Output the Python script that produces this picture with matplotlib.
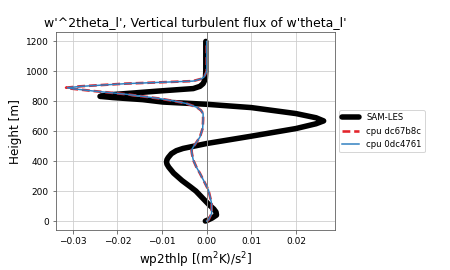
import matplotlib
matplotlib.use("Agg")
import matplotlib.pyplot as plt

# SAM-LES profile
sam_z = [0, 10, 20, 40, 60, 80, 110, 150, 200, 230, 270, 320, 360, 380, 395, 410, 425,
         450, 470, 485, 518, 567, 618, 650, 669, 690, 718, 758, 780, 795, 811, 825,
         833, 845, 869, 885, 900, 918, 950, 1000, 1200]
sam_v = [-0.0003, 0.0005, 0.0012, 0.0022, 0.0021, 0.0016, 0.0005, -0.0008, -0.0024,
         -0.0037, -0.0055, -0.0074, -0.0085, -0.0089, -0.009, -0.0089, -0.0086,
         -0.0079, -0.0068, -0.0053, 0.0, 0.01, 0.02, 0.0245, 0.0262, 0.0245, 0.02,
         0.01, 0.0, -0.0098, -0.0143, -0.021, -0.0239, -0.021, -0.0105, -0.003,
         -0.0015, -0.0008, -0.0003, -0.0002, -0.0002]

# cpu runs
cpu_z = [0, 7, 51, 118, 207, 260, 318, 360, 407, 450, 473, 495, 530, 562, 620, 673,
         718, 740, 760, 785, 800, 818, 847, 869, 884, 891, 900, 918, 935, 950, 962,
         1000, 1200]
dc67_v = [0.0, 0.0004, 0.0011, 0.0011, 0.0004, -0.0005, -0.0015, -0.0023, -0.003,
          -0.0033, -0.0034, -0.003, -0.0022, -0.0015, -0.0009, -0.0008, -0.0008,
          -0.0013, -0.0022, -0.0045, -0.007, -0.0105, -0.018, -0.0255, -0.0302,
          -0.0315, -0.0284, -0.0182, -0.0031, -0.0012, -0.0006, 0.0, 0.0]
v0dc_v = [0.0, 0.0004, 0.0011, 0.0011, 0.0004, -0.0005, -0.0015, -0.0023, -0.003,
          -0.0033, -0.0034, -0.003, -0.0022, -0.0015, -0.0009, -0.0008, -0.0008,
          -0.0013, -0.0022, -0.0045, -0.007, -0.0105, -0.018, -0.0255, -0.03,
          -0.0312, -0.028, -0.018, -0.003, -0.0012, -0.0006, 0.0, 0.0]

fig = plt.figure(figsize=(6.25, 3.75), dpi=72)
ax = fig.add_axes([0.124, 0.148, 0.62, 0.733])

ax.plot(sam_v, sam_z, color="black", lw=5.5, label="SAM-LES",
        solid_joinstyle="round", solid_capstyle="round")
ax.plot(dc67_v, cpu_z, color="#e3242b", lw=2.6, ls=(0, (3, 1.5)), label="cpu dc67b8c")
ax.plot(v0dc_v, cpu_z, color="#2f7fc0", lw=1.5, label="cpu 0dc4761")
ax.axvline(0, color="0.5", lw=1)

ax.set_xlim(-0.0338, 0.0287)
ax.set_ylim(-60, 1262)
ax.set_yticks([0, 200, 400, 600, 800, 1000, 1200])
ax.set_xticks([-0.03, -0.02, -0.01, 0.0, 0.01, 0.02])
ax.tick_params(labelsize=9, colors="0.35", labelcolor="black")
for s in ax.spines.values():
    s.set_color("0.35")
ax.grid(True, color="0.8", lw=0.8)

ax.set_title("w'^2theta_l', Vertical turbulent flux of w'theta_l'", fontsize=12.5)
ax.set_ylabel("Height [m]", fontsize=12)
ax.set_xlabel("wp2thlp [(m$^2$K)/s$^2$]", fontsize=12)

ax.legend(loc="center left", bbox_to_anchor=(1.0, 0.5), fontsize=8.5)

fig.savefig("out.png", dpi=72)
